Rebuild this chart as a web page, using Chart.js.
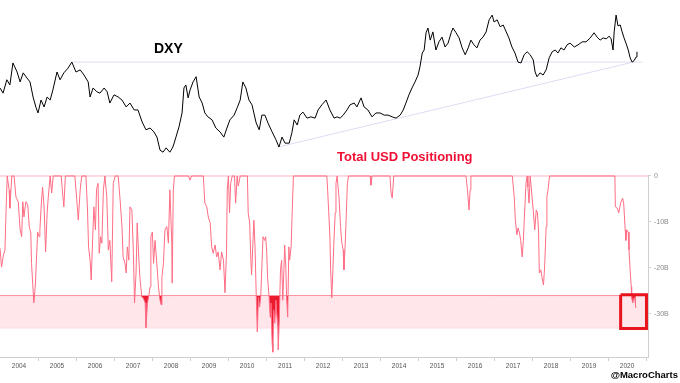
<!DOCTYPE html>
<html>
<head>
<meta charset="utf-8">
<script src="https://cdn.jsdelivr.net/npm/chart.js@4.4.1/dist/chart.umd.min.js"></script>
<style>
  html, body { margin: 0; padding: 0; background: #fff; }
  #wrap { position: relative; width: 680px; height: 383px; overflow: hidden; }
  .lbl { position: absolute; font-family: "Liberation Sans", Arial, sans-serif; font-weight: bold; line-height: 1; white-space: nowrap; }
</style>
</head>
<body>
<div id="wrap">
  <canvas id="usdChart" width="680" height="383"></canvas>
  <div class="lbl" style="left:154px; top:41px; font-size:14px; color:#000;">DXY</div>
  <div class="lbl" style="left:337px; top:150px; font-size:13px; color:#f01035;">Total USD Positioning</div>
  <div class="lbl" style="right:2px; top:370px; font-size:9.5px; color:#000;">@MacroCharts</div>
</div>
<script>
// DXY (top panel), decimal years
const dxyDates = [
  2004.00, 2004.08, 2004.18, 2004.26, 2004.34, 2004.45, 2004.53, 2004.61, 2004.71, 2004.79, 2004.87, 2004.95,
  2005.00, 2005.08, 2005.16, 2005.24, 2005.32, 2005.39, 2005.50, 2005.58, 2005.68, 2005.79, 2005.89,
  2006.00, 2006.11, 2006.21, 2006.32, 2006.37, 2006.45, 2006.55, 2006.63, 2006.74, 2006.82, 2006.89,
  2007.00, 2007.11, 2007.21, 2007.32, 2007.42, 2007.53, 2007.63, 2007.74, 2007.84, 2007.95,
  2008.05, 2008.13, 2008.21, 2008.29, 2008.37, 2008.47, 2008.55, 2008.63, 2008.71, 2008.79, 2008.84, 2008.89, 2008.95,
  2009.00, 2009.08, 2009.16, 2009.24, 2009.32, 2009.39, 2009.47, 2009.58, 2009.68, 2009.79, 2009.89, 2009.97,
  2010.05, 2010.16, 2010.24, 2010.32, 2010.39, 2010.47, 2010.55, 2010.63, 2010.74, 2010.82, 2010.89, 2010.97,
  2011.05, 2011.16, 2011.26, 2011.34, 2011.42, 2011.50, 2011.61, 2011.68, 2011.74, 2011.82, 2011.89, 2011.97,
  2012.08, 2012.18, 2012.29, 2012.37, 2012.47, 2012.58, 2012.68, 2012.79, 2012.87, 2012.95,
  2013.03, 2013.13, 2013.21, 2013.32, 2013.39, 2013.50, 2013.58, 2013.68, 2013.79, 2013.89,
  2014.00, 2014.11, 2014.21, 2014.32, 2014.42, 2014.53, 2014.61, 2014.68, 2014.76, 2014.84, 2014.92,
  2015.00, 2015.05, 2015.11, 2015.16, 2015.21, 2015.26, 2015.32, 2015.39, 2015.47, 2015.55, 2015.63, 2015.71, 2015.79, 2015.87, 2015.92,
  2016.00, 2016.08, 2016.16, 2016.24, 2016.32, 2016.39, 2016.47, 2016.55, 2016.63, 2016.71, 2016.79, 2016.87, 2016.95,
  2017.00, 2017.08, 2017.16, 2017.24, 2017.32, 2017.39, 2017.47, 2017.55, 2017.63, 2017.71, 2017.79, 2017.87, 2017.95,
  2018.03, 2018.08, 2018.13, 2018.21, 2018.29, 2018.37, 2018.45, 2018.53, 2018.61, 2018.68, 2018.76, 2018.84, 2018.92,
  2019.00, 2019.11, 2019.21, 2019.32, 2019.42, 2019.53, 2019.63, 2019.71, 2019.79, 2019.87, 2019.95,
  2020.03, 2020.08, 2020.13, 2020.16, 2020.21, 2020.26, 2020.32, 2020.37, 2020.42, 2020.47, 2020.53, 2020.58, 2020.63, 2020.68, 2020.74, 2020.76
];
const dxyValues = [
  86.4, 85.2, 88.3, 87.1, 92.2, 90.1, 87.8, 89.9, 88.7, 87.8, 84.3, 81.8,
  80.6, 83.6, 82.0, 84.3, 83.6, 85.9, 90.1, 88.3, 89.9, 91.0, 92.4,
  90.1, 90.6, 89.4, 87.8, 84.3, 86.4, 85.5, 85.2, 86.4, 85.5, 82.9,
  84.8, 84.3, 83.6, 82.0, 82.9, 81.3, 81.3, 78.5, 76.7, 77.1,
  76.2, 75.0, 72.0, 71.5, 72.5, 71.5, 72.7, 75.0, 77.4, 80.6, 86.4, 87.1, 84.1,
  85.9, 87.8, 89.0, 84.3, 82.9, 80.6, 79.7, 79.0, 77.1, 76.2, 75.0, 77.1,
  79.0, 80.1, 81.8, 83.6, 87.8, 86.4, 83.6, 82.5, 78.3, 76.7, 80.1, 80.1,
  78.3, 76.2, 74.4, 72.7, 75.0, 73.6, 73.6, 76.0, 79.0, 77.8, 80.1, 80.8,
  79.4, 79.7, 79.4, 81.3, 82.5, 83.6, 81.3, 79.4, 79.7, 79.4,
  80.1, 81.3, 82.5, 82.9, 82.0, 84.1, 82.0, 81.3, 79.7, 80.6,
  80.6, 80.1, 80.1, 79.7, 79.4, 80.1, 81.3, 82.9, 84.8, 86.4, 87.8,
  89.4, 91.3, 94.5, 95.2, 99.2, 100.3, 97.5, 99.4, 95.2, 97.1, 98.2, 95.9, 96.8, 99.2, 100.3,
  99.2, 98.0, 95.7, 94.1, 95.7, 97.5, 96.4, 95.7, 97.5, 98.2, 99.4, 102.2, 103.3,
  101.7, 102.2, 100.6, 101.0, 99.4, 98.0, 95.9, 94.5, 92.4, 92.2, 94.1, 94.8, 94.1,
  92.9, 90.1, 89.0, 89.9, 89.4, 90.6, 93.4, 94.8, 95.2, 94.5, 95.7, 95.2, 96.4,
  96.8, 95.9, 96.4, 97.1, 97.1, 98.0, 99.2, 98.2, 97.5, 98.0, 97.8,
  98.4, 97.8, 95.2, 99.4, 103.3, 100.8, 101.0, 99.4, 98.0, 96.8, 95.2, 93.4, 92.4, 92.7, 93.6, 94.8
];

// Total USD positioning (bottom panel), $bn
const posDates = [
  2004.00, 2004.04, 2004.09, 2004.13, 2004.16, 2004.19, 2004.24, 2004.26, 2004.31, 2004.37, 2004.42, 2004.48,
  2004.53, 2004.57, 2004.60, 2004.63, 2004.68, 2004.73, 2004.77, 2004.81, 2004.83, 2004.86, 2004.89, 2004.93,
  2004.97, 2004.99, 2005.03, 2005.05, 2005.08, 2005.12, 2005.16, 2005.20, 2005.24, 2005.27, 2005.32, 2005.36,
  2005.40, 2005.61, 2005.64, 2005.68, 2005.72, 2005.97, 2006.02, 2006.06, 2006.11, 2006.15, 2006.26, 2006.30,
  2006.33, 2006.37, 2006.40, 2006.44, 2006.47, 2006.51, 2006.54, 2006.58, 2006.61, 2006.65, 2006.68, 2006.72,
  2006.76, 2006.81, 2006.85, 2006.89, 2006.94, 2006.98, 2007.03, 2007.11, 2007.16, 2007.21, 2007.24, 2007.29,
  2007.32, 2007.35, 2007.39, 2007.42, 2007.47, 2007.51, 2007.54, 2007.58, 2007.61, 2007.65, 2007.68, 2007.73,
  2007.77, 2007.82, 2007.84, 2007.88, 2007.91, 2007.95, 2007.97, 2008.01, 2008.04, 2008.08, 2008.12, 2008.17,
  2008.21, 2008.24, 2008.26, 2008.30, 2008.34, 2008.39, 2008.43, 2008.47, 2008.52, 2008.53, 2008.56, 2008.59,
  2008.96, 2009.00, 2009.04, 2009.35, 2009.39, 2009.44, 2009.48, 2009.53, 2009.57, 2009.61, 2009.66, 2009.70,
  2009.74, 2009.79, 2009.83, 2009.88, 2009.92, 2009.96, 2009.98, 2010.01, 2010.04, 2010.07, 2010.11, 2010.17,
  2010.20, 2010.24, 2010.27, 2010.32, 2010.51, 2010.53, 2010.57, 2010.60, 2010.62, 2010.65, 2010.68, 2010.71,
  2010.74, 2010.77, 2010.80, 2010.83, 2010.86, 2010.89, 2010.92, 2010.96, 2010.99, 2011.02, 2011.04, 2011.08,
  2011.11, 2011.13, 2011.16, 2011.18, 2011.20, 2011.23, 2011.26, 2011.28, 2011.31, 2011.32, 2011.35, 2011.38,
  2011.41, 2011.44, 2011.47, 2011.49, 2011.52, 2011.54, 2011.57, 2011.60, 2011.62, 2011.66, 2011.69, 2011.72,
  2012.60, 2012.62, 2012.65, 2012.68, 2012.70, 2012.73, 2012.76, 2012.78, 2012.82, 2012.84, 2012.87, 2012.89,
  2012.92, 2012.96, 2012.99, 2013.03, 2013.05, 2013.08, 2013.11, 2013.14, 2013.17, 2013.74, 2013.76, 2013.79,
  2014.26, 2014.29, 2014.32, 2014.36, 2016.26, 2016.30, 2016.34, 2016.37, 2016.39, 2017.48, 2017.53, 2017.56,
  2017.60, 2017.63, 2017.67, 2017.70, 2017.74, 2017.77, 2017.81, 2017.84, 2017.87, 2017.89, 2017.92, 2017.95,
  2017.97, 2018.00, 2018.03, 2018.07, 2018.11, 2018.14, 2018.17, 2018.19, 2018.23, 2018.26, 2018.30, 2018.33,
  2018.37, 2018.39, 2018.42, 2018.46, 2020.18, 2020.19, 2020.24, 2020.28, 2020.33, 2020.38, 2020.41, 2020.45,
  2020.47, 2020.49, 2020.53, 2020.55, 2020.58, 2020.61, 2020.62, 2020.65, 2020.68, 2020.70, 2020.73
];
const posValues = [
  -15.7, -19.8, -17.2, -16.1, -7.4, 0, -3, -7, 0, 0, -4.6, -5.6,
  -11.7, -13.2, -5.6, -8.9, -5.6, -6.3, -11, -12.4, -19, -23.3, -27.6, -23.7,
  -16.1, -12.2, -13.2, -11.7, -7, -2.4, -6.7, -16.5, -8, -4.6, 0, -3.7,
  0, 0, -3, -6.7, 0, 0, -5.2, -9.6, -3, 0, 0, -6.7,
  -15.4, -18.3, -22.6, -13.2, -6.7, -11.7, -3, -1.6, -16.8, -13.2, -14.6, -3,
  0, -4.6, -16.1, -14, -23, -1.6, 0, 0, -5.2, -11, -17.6, -19,
  -21.1, -15.4, -18.3, -6.7, -7.4, -16.8, -27.6, -21.1, -10.2, -17.6, -22, -26.3,
  -26.5, -27.6, -33, -27.6, -26.3, -24.1, -13.2, -12.2, -19, -14, -18.3, -24.1,
  -27, -28, -22, -19, -11.7, -11, -14.6, -3, -14.6, -23.3, -3, 0,
  0, -0.9, 0, 0, -5.9, -6.7, -8.9, -10.2, -15.4, -16.8, -15, -17.6,
  -16.5, -20.4, -16.5, -18.3, -25.4, -16.5, -3, 0, -8, -1.6, 0, 0,
  -5.9, 0, -2.2, 0, 0, -8, -10.2, -18.3, -21.5, -15.4, -9.6, -15.4,
  -25.4, -33.9, -26.3, -28.5, -26.3, -19.8, -13.2, -14, -13.2, -16.8, -22, -26.3,
  -30.7, -27.6, -36.3, -38.3, -29.1, -32, -27, -29.8, -32.8, -37.8, -30.7, -20.4,
  -18.3, -27, -20.4, -15, -19.8, -26.3, -30.7, -15.4, -18.3, -15.4, -7.4, 0,
  0, -3, -8, -13.2, -20.4, -26.5, -20.4, -15.4, -8, -1.6, 0, 0,
  -4.6, -11, -14.3, -16.1, -20.4, -15.4, -8.9, -1.6, 0, 0, -2, 0,
  0, -3.7, -4.8, 0, 0, -3, -7.4, -3, 0, 0, -4.6, -9.6,
  -12.8, -11.3, -12.4, -14, -17.6, -14, -6.7, -1.6, 0, -2.4, -5.9, 0,
  0, -4.6, -7.4, -11.7, -7.4, -8, -11.7, -21.1, -20.4, -22, -23.7, -19.8,
  -11, -4.6, -3, 0, 0, -6.7, -7, -8, -5.9, -4.8, -5.9, -11.7,
  -14, -11.7, -12.2, -16.1, -20.4, -24.1, -26.5, -27.6, -26.5, -26.5, -28.7
];

// axis ticks
const yearLabelTicks = [2004.5, 2005.5, 2006.5, 2007.5, 2008.5, 2009.5, 2010.5, 2011.5, 2012.5,
  2013.5, 2014.5, 2015.5, 2016.5, 2017.5, 2018.5, 2019.5, 2020.5];
const yearBoundaries = [2005, 2006, 2007, 2008, 2009, 2010, 2011, 2012, 2013, 2014, 2015, 2016,
  2017, 2018, 2019, 2020, 2021];
const posTicks = [0, -10, -20, -30];
const posTickLabels = ["0", "-10B", "-20B", "-30B"];

// annotation lines on DXY
const flatLineDates = [2005.89, 2020.90];
const flatLineValues = [92.4, 92.4];
const trendDates = [2011.32, 2020.66];
const trendValues = [72.7, 92.4];

// extreme zone + highlight box on positioning
const zoneDates = [2003.9, 2021.2];
const zoneTop = [-26, -26];
const zoneBottom = [-33, -33];
const zeroLine = [0, 0];
const boxDates = [2020.33, 2021.01, 2021.01, 2020.33, 2020.33];
const boxValues = [-25.8, -25.8, -33.15, -33.15, -25.8];

const pts = (xs, ys) => xs.map((x, i) => ({ x: x, y: ys[i] }));

const axisMarks = {
  id: "axisMarks",
  afterDraw(chart) {
    const { ctx, chartArea, scales } = chart;
    ctx.save();
    ctx.strokeStyle = "#cfcfcf";
    ctx.lineWidth = 1;
    ctx.beginPath();
    yearBoundaries.forEach(yr => {
      const px = Math.round(scales.x.getPixelForValue(yr)) + 0.5;
      ctx.moveTo(px, chartArea.bottom);
      ctx.lineTo(px, chartArea.bottom + 4);
    });
    const rx = Math.round(chartArea.right) + 0.5;
    ctx.moveTo(rx, scales.pos.getPixelForValue(0));
    ctx.lineTo(rx, chartArea.bottom);
    ctx.stroke();
    ctx.restore();
  }
};

const ctx = document.getElementById("usdChart").getContext("2d");
new Chart(ctx, {
  type: "line",
  data: {
    datasets: [
      {
        data: pts(boxDates, boxValues), yAxisID: "pos",
        borderColor: "#e8141e", borderWidth: 3, pointRadius: 0, clip: false, fill: false
      },
      {
        data: pts(dxyDates, dxyValues), yAxisID: "dxy",
        borderColor: "#000", borderWidth: 1, pointRadius: 0, fill: false
      },
      {
        data: pts(posDates, posValues), yAxisID: "pos",
        borderColor: "#ff6d84", borderWidth: 1, pointRadius: 0,
        fill: { target: { value: zoneTop[0] }, above: "rgba(0,0,0,0)", below: "#ec1a2e" }
      },
      {
        data: pts(zoneDates, zeroLine), yAxisID: "pos",
        borderColor: "#ffb3c0", borderWidth: 1, pointRadius: 0, fill: false
      },
      {
        data: pts(flatLineDates, flatLineValues), yAxisID: "dxy",
        borderColor: "#dcdcf4", borderWidth: 1, pointRadius: 0, fill: false
      },
      {
        data: pts(trendDates, trendValues), yAxisID: "dxy",
        borderColor: "#dcdcf4", borderWidth: 1, pointRadius: 0, fill: false
      },
      {
        data: pts(zoneDates, zoneTop), yAxisID: "pos",
        borderColor: "#ffbcc8", borderWidth: 1, pointRadius: 0,
        backgroundColor: "#ffe6eb", fill: "+1"
      },
      {
        data: pts(zoneDates, zoneBottom), yAxisID: "pos",
        borderColor: "#ffbcc8", borderWidth: 1, pointRadius: 0, fill: false
      }
    ]
  },
  options: {
    responsive: false,
    animation: false,
    layout: { padding: 0 },
    plugins: { legend: { display: false }, tooltip: { enabled: false } },
    elements: { line: { tension: 0 } },
    scales: {
      x: {
        type: "linear",
        min: 2004,
        max: 2021.05,
        afterBuildTicks: axis => { axis.ticks = yearLabelTicks.map(v => ({ value: v })); },
        afterFit: scale => { scale.height = 26; scale.paddingLeft = 0; scale.paddingRight = 0; },
        grid: { drawOnChartArea: false, drawTicks: false },
        border: { display: true, color: "#cfcfcf" },
        ticks: {
          padding: 5,
          maxRotation: 0,
          autoSkip: false,
          color: "#555",
          font: { family: "Liberation Sans", size: 6.5 },
          callback: v => String(Math.floor(v))
        }
      },
      dxy: {
        type: "linear",
        position: "left",
        display: false,
        min: 24.0,
        max: 106.8
      },
      pos: {
        type: "linear",
        position: "right",
        min: -39.35,
        max: 38.26,
        afterBuildTicks: axis => { axis.ticks = posTicks.map(v => ({ value: v })); },
        afterFit: scale => { scale.width = 32; scale.paddingTop = 0; scale.paddingBottom = 0; },
        grid: { drawOnChartArea: false, drawTicks: true, tickLength: 3, color: "#cfcfcf" },
        border: { display: false },
        ticks: {
          padding: 3,
          color: "#8a8a8a",
          font: { family: "Liberation Sans", size: 7 },
          callback: v => posTickLabels[posTicks.indexOf(v)]
        }
      }
    }
  },
  plugins: [axisMarks]
});
</script>
</body>
</html>
